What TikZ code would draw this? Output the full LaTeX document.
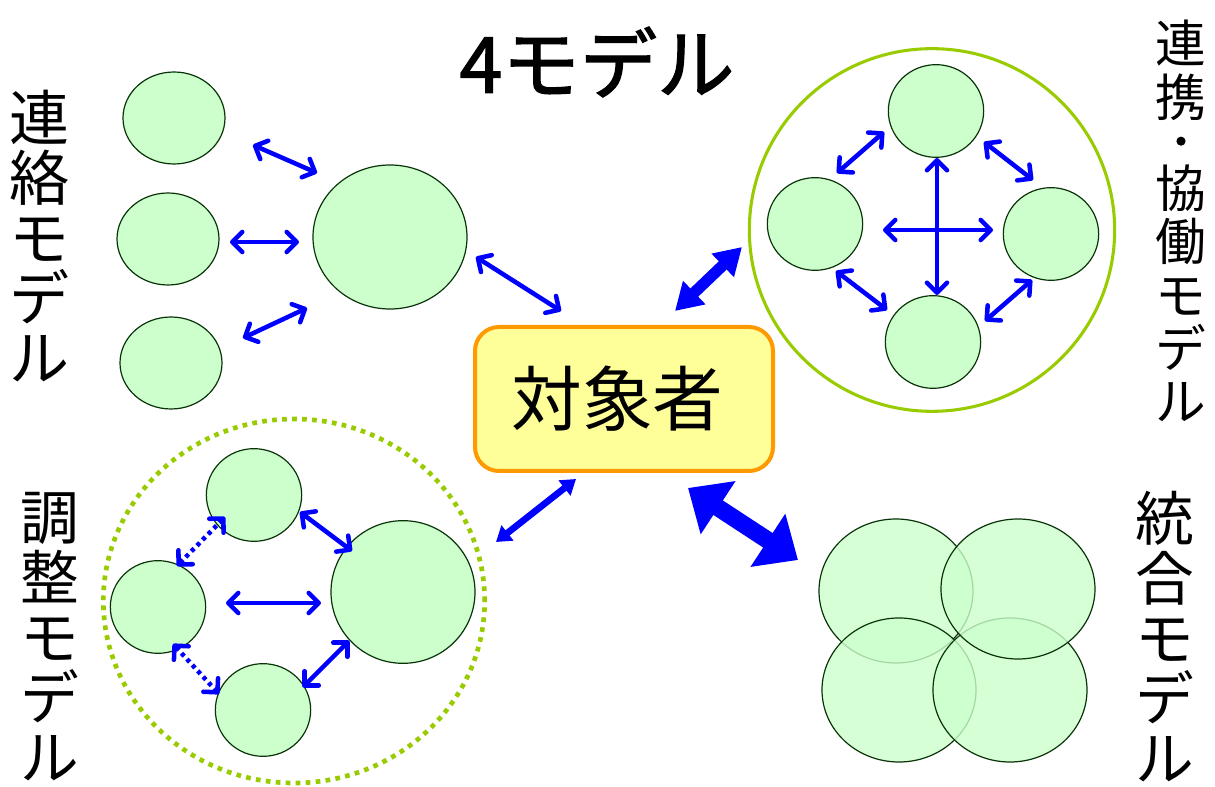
\documentclass[tikz,border=0pt]{standalone}
\usepackage{fontspec}
\newfontfamily\jp{Noto Sans CJK JP}
\newfontfamily\jpt{Noto Sans CJK JP}[FakeBold=1.6]
\newfontfamily\jpdot{Noto Sans CJK JP}[FakeBold=3]
\usetikzlibrary{arrows.meta,shapes.geometric}
\definecolor{cfill}{HTML}{CCFFCC}
\definecolor{cline}{HTML}{0A330A}
\definecolor{ablue}{HTML}{0000FF}
\definecolor{lgreen}{HTML}{99CC00}
\definecolor{borange}{HTML}{FF9900}
\definecolor{byellow}{HTML}{FFFF99}
\begin{document}
\begin{tikzpicture}[x=0.75pt,y=-0.75pt,
  ball/.style={ellipse, draw=cline, line width=0.9pt, fill=cfill, inner sep=0pt},
  sball/.style={ball, minimum width=76.5pt, minimum height=69pt},
  mball/.style={ball, minimum width=71.5pt, minimum height=69.5pt},
  bball/.style={ball, minimum width=115.5pt, minimum height=108pt},
  oball/.style={ball, fill opacity=0.8, minimum width=115.5pt, minimum height=108pt},
  arr/.style={draw=ablue, line width=3.4pt, line cap=round,
    {Straight Barb[length=7.5pt,width=15pt,round]}-{Straight Barb[length=7.5pt,width=15pt,round]}},
  dotarr/.style={arr, dash pattern=on 3pt off 3pt, line cap=butt},
  fatarr/.style={draw=ablue, fill=ablue, line width=8.5pt,
    {Triangle[length=20pt,width=23pt]}-{Triangle[length=20pt,width=23pt]}},
  hugearr/.style={draw=ablue, fill=ablue, line width=13pt,
    {Triangle[length=27pt,width=46pt]}-{Triangle[length=27pt,width=46pt]}},
  midarr/.style={draw=ablue, fill=ablue, line width=5pt,
    {Triangle[length=11pt,width=14pt]}-{Triangle[length=11pt,width=14pt]}},
  vlab/.style={font=\jp\fontsize{44}{45}\selectfont, align=center, inner sep=0pt}
]
\useasboundingbox (0,0) rectangle (1215,787);
\fill[white] (0,0) rectangle (1215,787);

% title
\node[font=\jpt\fontsize{58}{58}\selectfont, inner sep=0pt] (title) at (597,62) {4モデル};

% side labels
\node[vlab, font=\jp\fontsize{45}{45}\selectfont] (lab1) at (40,236) {連\\絡\\モ\\デ\\ル};
\node[vlab, font=\jp\fontsize{38}{40}\selectfont] (lab2) at (1181,221)
  {連\\携\\[-10.5pt]{\jpdot\fontsize{28}{28}\selectfont ・}\\[-1pt]協\\働\\モ\\デ\\ル};
\node[vlab] (lab3) at (50,637) {調\\整\\モ\\デ\\ル};
\node[vlab] (lab4) at (1165,637) {統\\合\\モ\\デ\\ル};

% target
\node[draw=borange, fill=byellow, line width=3pt, rounded corners=18pt,
  minimum width=223.5pt, minimum height=108pt, inner sep=0pt,
  font=\jp\fontsize{53}{53}\selectfont] (target) at (624,399) {対象者\kern10pt};

% top-left model
\node[sball] (tl1) at (174,118) {};
\node[sball] (tl2) at (168,239) {};
\node[sball] (tl3) at (171,363) {};
\node[bball] (tlb) at (390,237) {};

% top-right model
\node[ellipse, draw=lgreen, line width=2.3pt, minimum width=274pt, minimum height=272pt, inner sep=0pt] (trring) at (932,230) {};
\node[mball] (trt) at (936,111) {};
\node[mball] (trl) at (815,224) {};
\node[mball] (trr) at (1051,234) {};
\node[mball] (trb) at (933,342) {};

% bottom-left model
\node[ellipse, draw=lgreen, line width=3.5pt, dash pattern=on 3.5pt off 4pt, minimum width=286pt, minimum height=273pt, inner sep=0pt] (blring) at (294,601) {};
\node[mball] (blt) at (254,495) {};
\node[mball] (bll) at (158,607) {};
\node[mball] (blb) at (263,710) {};
\node[ball, minimum width=108pt, minimum height=107pt] (blg) at (403,592) {};

% bottom-right model
\node[oball] (brtl) at (896,591) {};
\node[oball] (brbl) at (899,690) {};
\node[oball] (brbr) at (1010,690) {};
\node[oball, minimum height=105pt] (brtr) at (1018,589) {};

% arrow end points
\foreach \n/\x/\y in {a1s/253/145, a1e/317/173, a2s/230/242, a2e/299/242,
  a3s/243/338, a3e/307/308, a4s/476/257, a4e/561/311,
  b1s/837/173, b1e/884/132, b2s/984/142, b2e/1033/180,
  b3s/836/271, b3e/887/310, b4s/985/321, b4e/1032/280,
  b5s/937/158, b5e/937/295, b6s/883/230, b6e/993/230,
  c1s/675/311, c1e/742/247, c2s/688/488, c2e/798/560,
  c3s/496/542, c3e/576/479,
  d1s/177/566, d1e/225/517, d2s/173/644, d2e/219/694,
  d3s/300/512, d3e/352/551, d4s/226/603, d4e/321/603,
  d5s/303/687, d5e/349/641}
  {\coordinate (\n) at (\x,\y);}

\draw[arr] (a1s) -- (a1e);
\draw[arr] (a2s) -- (a2e);
\draw[arr] (a3s) -- (a3e);
\draw[arr] (a4s) -- (a4e);
\draw[arr] (b1s) -- (b1e);
\draw[arr] (b2s) -- (b2e);
\draw[arr] (b3s) -- (b3e);
\draw[arr] (b4s) -- (b4e);
\draw[arr] (b5s) -- (b5e);
\draw[arr] (b6s) -- (b6e);
\draw[fatarr] (c1s) -- (c1e);
\draw[hugearr] (c2s) -- (c2e);
\draw[midarr] (c3s) -- (c3e);
\draw[dotarr] (d1s) -- (d1e);
\draw[dotarr] (d2s) -- (d2e);
\draw[arr] (d3s) -- (d3e);
\draw[arr] (d4s) -- (d4e);
\draw[arr] (d5s) -- (d5e);
\end{tikzpicture}
\end{document}
